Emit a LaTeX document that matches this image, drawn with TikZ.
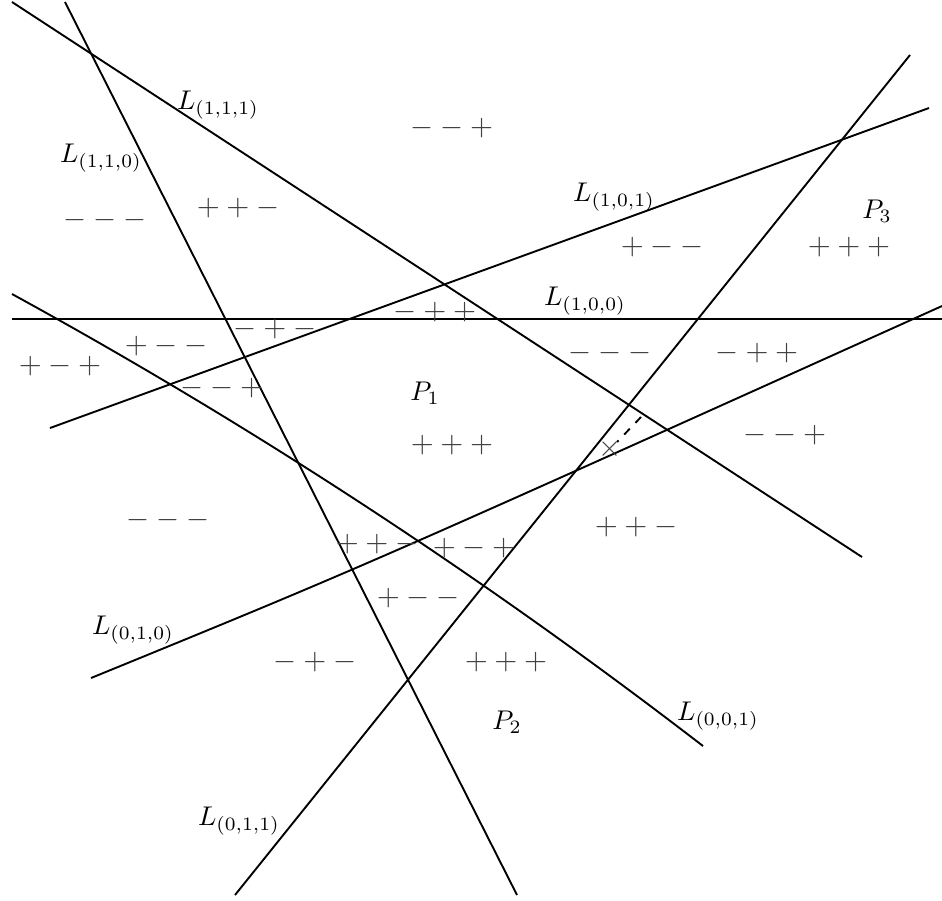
\documentclass[tikz,border=0pt]{standalone}
\usepackage{amsmath,amssymb}
\usepackage{xcolor}
\usepackage{tikz}
\usetikzlibrary{positioning}
\tikzset{
  cut/.style={line width=0.7pt, draw=black},
  lname/.style={inner sep=0pt, font=\normalsize},
  sgn/.style={inner sep=0pt, text=black!75, font=\fontsize{10.5}{12}\selectfont},
}

\begin{document}
\begin{tikzpicture}[x=0.013cm,y=-0.013cm]
    \useasboundingbox (0,0) rectangle (942,900);
    % end points of the lines
    \coordinate (s111) at (12,2);    \coordinate (e111) at (862,557);
    \coordinate (s110) at (65,2);    \coordinate (e110) at (517,895);
    \coordinate (s101) at (50,428);  \coordinate (e101) at (929,108);
    \coordinate (s100) at (12,319);  \coordinate (e100) at (942,319);
    \coordinate (s011) at (235,895); \coordinate (e011) at (910,55);
    \coordinate (s010) at (91,678);  \coordinate (e010) at (942,306);
    \coordinate (s001) at (12,294);  \coordinate (e001) at (703,746);
    \coordinate (k010) at (365,566);
    \coordinate (k001) at (242,420); \coordinate (m001) at (473,569);
    % lines
    \draw[cut] (s111) -- (e111);
    \draw[cut] (s110) -- (e110);
    \draw[cut] (s101) -- (e101);
    \draw[cut] (s100) -- (e100);
    \draw[cut] (s011) -- (e011);
    \draw[cut] (s010) .. controls (k010) .. (e010);
    \draw[cut] (s001) .. controls (k001) and (m001) .. (e001);
    % dashed piece and cross
    \coordinate (d1) at (641,417); \coordinate (d2) at (617,442);
    \draw[cut,dashed] (d1) -- (d2);
    \node[sgn] (cross) at (610,449) {$\times$};
    % line names
    \node[lname] (n111) at (218,105) {$L_{(1,1,1)}$};
    \node[lname] (n110) at (101,158) {$L_{(1,1,0)}$};
    \node[lname] (n101) at (614,197) {$L_{(1,0,1)}$};
    \node[lname] (n100) at (585,301) {$L_{(1,0,0)}$};
    \node[lname] (n010) at (133,630) {$L_{(0,1,0)}$};
    \node[lname] (n001) at (718,716) {$L_{(0,0,1)}$};
    \node[lname] (n011) at (239,821) {$L_{(0,1,1)}$};
    \node[lname] (p1) at (425,393) {$P_1$};
    \node[lname] (p2) at (507,722) {$P_2$};
    \node[lname] (p3) at (877,211) {$P_3$};
    % sign vectors of the cells
    \foreach \x/\y/\t [count=\i] in {
        452/128/{--+}, 105/220/{---}, 238/208/{++-}, 662/247/{+--},
        849/247/{+++}, 435/312/{-++}, 275/329/{-+-}, 166/346/{+--},
        60/366/{+-+}, 222/388/{--+}, 610/353/{---}, 757/353/{-++},
        785/435/{--+}, 452/445/{+++}, 168/520/{---}, 377/544/{++-},
        474/548/{+-+}, 636/527/{++-}, 418/598/{+--}, 315/662/{-+-},
        506/662/{+++}}
      \node[sgn] (c\i) at (\x,\y) {$\t$};
\end{tikzpicture}
\end{document}
